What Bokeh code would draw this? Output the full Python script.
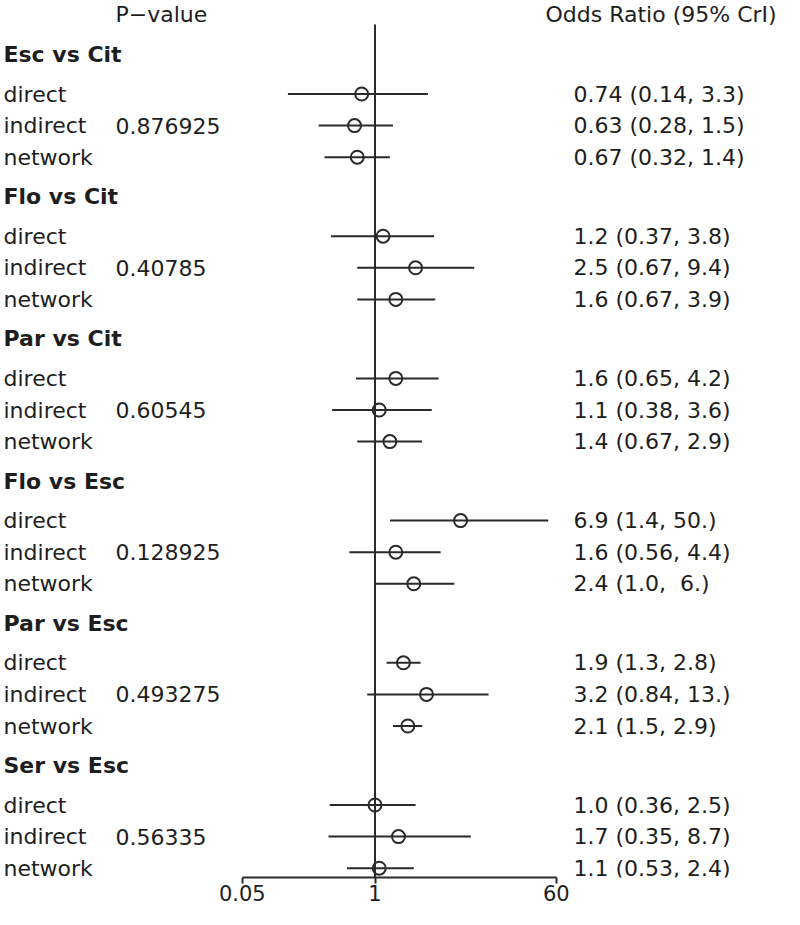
from bokeh.plotting import figure
from bokeh.models import Range1d, FixedTicker, PrintfTickFormatter, ColumnDataSource
from bokeh.core.properties import value
from bokeh.embed import file_html
from bokeh.resources import INLINE

# ---------------- data ----------------
comparisons = ["Esc vs Cit", "Flo vs Cit", "Par vs Cit", "Flo vs Esc", "Par vs Esc", "Ser vs Esc"]
p_values = ["0.876925", "0.40785", "0.60545", "0.128925", "0.493275", "0.56335"]
evidence = ["direct", "indirect", "network"]
or_est = [[0.74, 0.63, 0.67], [1.2, 2.5, 1.6], [1.6, 1.1, 1.4],
          [6.9, 1.6, 2.4], [1.9, 3.2, 2.1], [1.0, 1.7, 1.1]]
or_lo = [[0.14, 0.28, 0.32], [0.37, 0.67, 0.67], [0.65, 0.38, 0.67],
         [1.4, 0.56, 1.0], [1.3, 0.84, 1.5], [0.36, 0.35, 0.53]]
or_hi = [[3.3, 1.5, 1.4], [3.8, 9.4, 3.9], [4.2, 3.6, 2.9],
         [50.0, 4.4, 6.0], [2.8, 13.0, 2.9], [2.5, 8.7, 2.4]]
or_labels = [["0.74 (0.14, 3.3)", "0.63 (0.28, 1.5)", "0.67 (0.32, 1.4)"],
             ["1.2 (0.37, 3.8)", "2.5 (0.67, 9.4)", "1.6 (0.67, 3.9)"],
             ["1.6 (0.65, 4.2)", "1.1 (0.38, 3.6)", "1.4 (0.67, 2.9)"],
             ["6.9 (1.4, 50.)", "1.6 (0.56, 4.4)", "2.4 (1.0,\u00a0 6.)"],
             ["1.9 (1.3, 2.8)", "3.2 (0.84, 13.)", "2.1 (1.5, 2.9)"],
             ["1.0 (0.36, 2.5)", "1.7 (0.35, 8.7)", "1.1 (0.53, 2.4)"]]
tick_values = [0.05, 1, 60]
title_pvalue = "P\u2212value"
title_or = "Odds Ratio (95% CrI)"

# ---------------- layout ----------------
W, H = 784, 909
BOTTOM = 32
PX_PER_DEC = 101.97
X_ONE = 374.5            # canvas x of OR = 1
def px_to_x(px):         # canvas px -> data value on the log axis
    return 10 ** ((px - X_ONE) / PX_PER_DEC)

FONT = value("DejaVu Sans")
FS = "22px"
TXT = "#1e1e1e"
LINE = "#2a2a2a"

p = figure(width=W, height=H, x_axis_type="log", y_axis_location=None,
           x_range=Range1d(px_to_x(0), px_to_x(W)),
           y_range=Range1d(H - BOTTOM, 0),
           output_backend="svg", toolbar_location=None,
           min_border_left=0, min_border_right=0, min_border_top=0,
           min_border_bottom=BOTTOM)
p.grid.visible = False
p.outline_line_color = None
p.background_fill_color = "white"
p.border_fill_color = "white"

unit = 31.6
header_y = [54 + 4.5 * unit * g for g in range(len(comparisons))]

hx, hy, hl = [], [], []
rx, ry, rl = [], [], []
px_, py_, pl = [], [], []
est, lo, hi, ys, lab = [], [], [], [], []
for g, comp in enumerate(comparisons):
    y0 = header_y[g]
    hx.append(px_to_x(3)); hy.append(y0); hl.append(comp)
    for k, ev in enumerate(evidence):
        y = y0 + unit * (1.25 + k)
        rx.append(px_to_x(3)); ry.append(y); rl.append(ev)
        est.append(or_est[g][k]); lo.append(or_lo[g][k]); hi.append(or_hi[g][k])
        ys.append(y); lab.append(or_labels[g][k])
        if ev == "indirect":
            px_.append(px_to_x(115)); py_.append(y); pl.append(p_values[g])

# column titles
p.text(x=[px_to_x(115), px_to_x(545)], y=[14, 14], text=[title_pvalue, title_or],
       text_font=FONT, text_font_size=FS, text_color=TXT,
       text_baseline="middle", text_align="left")
# comparison headers
p.text(x=hx, y=hy, text=hl, text_font=FONT, text_font_size=FS, text_font_style="bold",
       text_color=TXT, text_baseline="middle", text_align="left")
# evidence labels
p.text(x=rx, y=ry, text=rl, text_font=FONT, text_font_size=FS, text_color=TXT,
       text_baseline="middle", text_align="left")
# p-values
p.text(x=px_, y=py_, text=pl, text_font=FONT, text_font_size=FS, text_color=TXT,
       text_baseline="middle", text_align="left")
# OR labels
p.text(x=[px_to_x(573)] * len(lab), y=ys, text=lab, text_font=FONT, text_font_size=FS,
       text_color=TXT, text_baseline="middle", text_align="left")

# reference line at OR = 1
p.segment(x0=[1], y0=[24], x1=[1], y1=[H - BOTTOM], line_color=LINE, line_width=2)

src = ColumnDataSource(dict(est=est, lo=lo, hi=hi, y=ys))
p.segment(x0="lo", y0="y", x1="hi", y1="y", source=src, line_color=LINE, line_width=2)
p.scatter(x="est", y="y", source=src, marker="circle", size=13,
          fill_color=None, line_color=LINE, line_width=2)

ax = p.xaxis[0]
ax.ticker = FixedTicker(ticks=tick_values)
ax.formatter = PrintfTickFormatter(format="%g")
ax.bounds = (min(tick_values), max(tick_values))
ax.axis_line_width = 2
ax.axis_line_color = LINE
ax.major_tick_line_width = 2
ax.major_tick_line_color = LINE
ax.major_tick_in = 0
ax.major_tick_out = 6
ax.minor_tick_line_color = None
ax.major_label_standoff = 1
ax.major_label_text_font = "DejaVu Sans"
ax.major_label_text_font_size = "21px"
ax.major_label_text_color = TXT

open("out.html", "w").write(file_html(p, INLINE))
